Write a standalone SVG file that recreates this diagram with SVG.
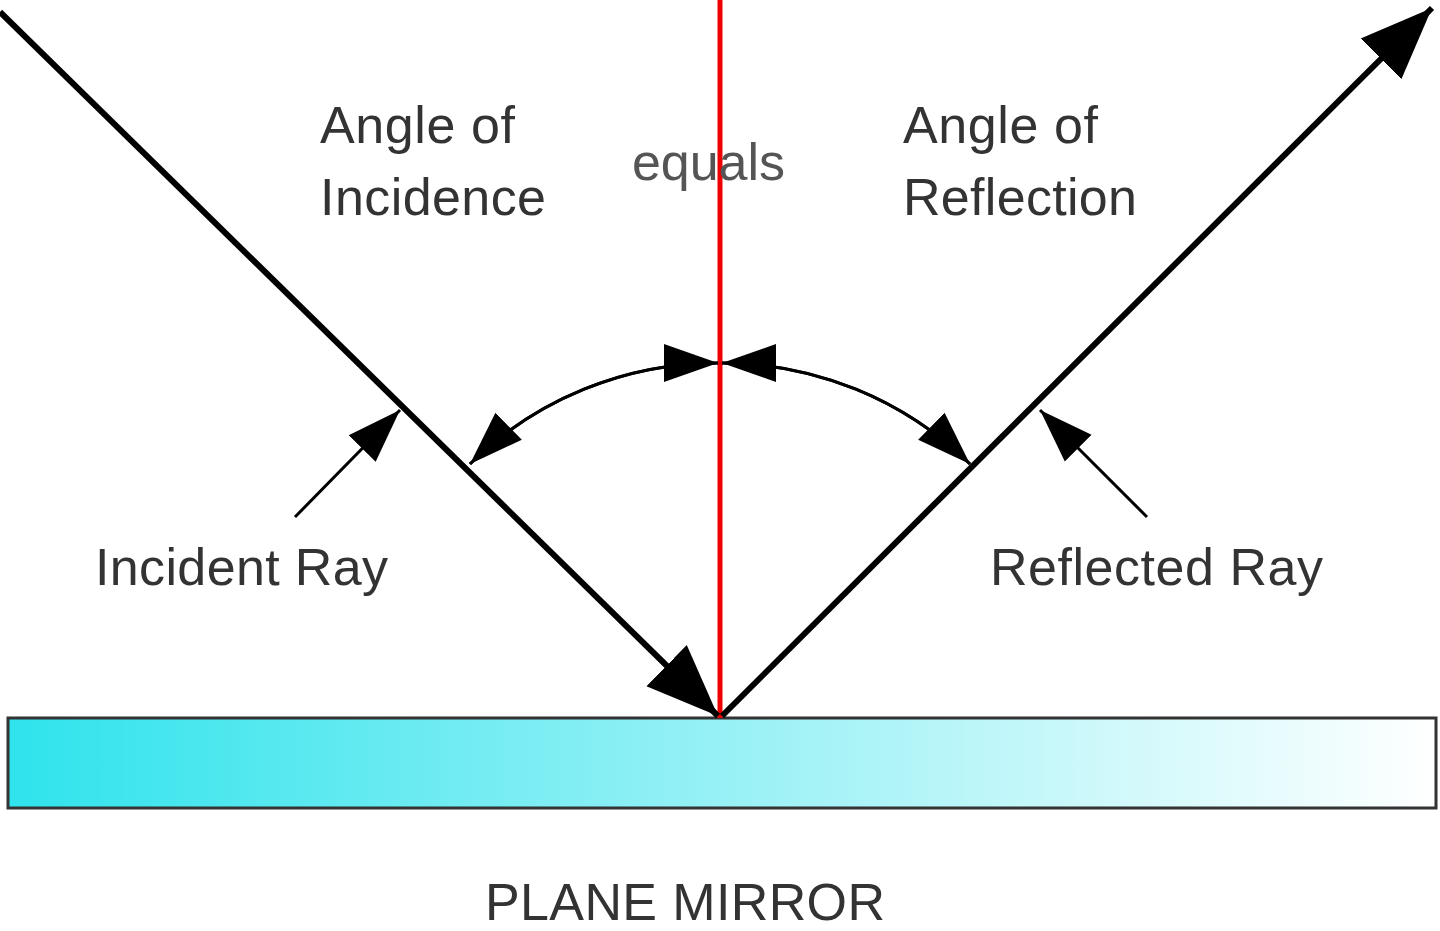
<svg xmlns="http://www.w3.org/2000/svg" width="1440" height="931" viewBox="0 0 1440 931">
<defs>
<linearGradient id="g" x1="0" x2="1" y1="0" y2="0"><stop offset="0" stop-color="#2fe3ec"/><stop offset="1" stop-color="#ffffff"/></linearGradient>
<marker id="ah" viewBox="0 0 10 10" refX="10" refY="5" markerWidth="12" markerHeight="12" orient="auto"><path d="M0,1 L10,5 L0,9 z" fill="#000"/></marker>
<marker id="sm" viewBox="0 0 10 10" refX="10" refY="5" markerWidth="18" markerHeight="18" orient="auto"><path d="M0,1.5 L10,5 L0,8.5 z" fill="#000"/></marker>
</defs>
<style>
text{font-family:"Liberation Sans",Arial,sans-serif;font-size:52px;fill:#333}
.ray{stroke:#000;stroke-width:6;fill:none}
.thin{stroke:#000;stroke-width:3;fill:none}
</style>
<rect width="1440" height="931" fill="#fff"/>
<g id="mirror"><rect x="8" y="718" width="1428" height="90" fill="url(#g)" stroke="#333" stroke-width="3"/></g>
<g id="normal"><line x1="720" y1="0" x2="720" y2="718" stroke="#e00" stroke-width="5"/></g>
<g id="connectors">
<line class="ray" x1="0" y1="12" x2="718" y2="716" marker-end="url(#ah)"/>
<line class="ray" x1="722" y1="716" x2="1432" y2="8" marker-end="url(#ah)"/>
<path class="thin" d="M718,363 A355,355 0 0 0 470,464" marker-end="url(#sm)"/>
<path class="thin" d="M722,363 A355,355 0 0 1 970,464" marker-end="url(#sm)"/>
<path class="thin" d="M470,464 A355,355 0 0 1 718,363" marker-end="url(#sm)"/>
<path class="thin" d="M970,464 A355,355 0 0 0 722,363" marker-end="url(#sm)"/>
<line class="thin" x1="295" y1="517" x2="400" y2="410" marker-end="url(#sm)"/>
<line class="thin" x1="1147" y1="517" x2="1040" y2="410" marker-end="url(#sm)"/>
</g>
<g id="labels">
<text x="320" y="143" textLength="195">Angle of</text>
<text x="320" y="215" textLength="226">Incidence</text>
<text x="632" y="180" textLength="153" style="fill:#555">equals</text>
<text x="903" y="143" textLength="195">Angle of</text>
<text x="903" y="215" textLength="234">Reflection</text>
<text x="95" y="585" textLength="293">Incident Ray</text>
<text x="990" y="585" textLength="333">Reflected Ray</text>
<text x="485" y="920" textLength="400">PLANE MIRROR</text>
</g>
</svg>
